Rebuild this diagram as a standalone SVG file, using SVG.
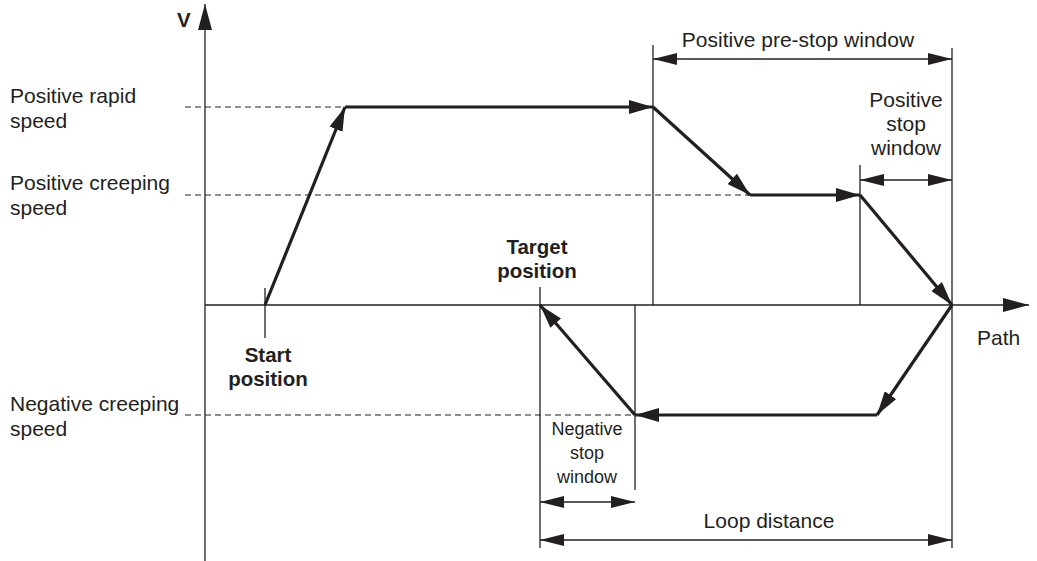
<svg xmlns="http://www.w3.org/2000/svg" width="1037" height="561" viewBox="0 0 1037 561">
<defs>
<style>
text{font-family:"Liberation Sans",Arial,sans-serif;font-size:21px;fill:#231f20}
.b{font-weight:bold;font-size:20.5px}
.c{text-anchor:middle}
.s{font-size:18px}
.thin{stroke:#231f20;stroke-width:1.3;fill:none}
.dash{stroke:#231f20;stroke-width:1;stroke-dasharray:6 4;fill:none}
.thick{stroke:#231f20;stroke-width:3.2;fill:none;marker-end:url(#ah)}
.dim{stroke:#231f20;stroke-width:1.3;fill:none;marker-start:url(#ds);marker-end:url(#de)}
</style>
<marker id="ah" viewBox="0 0 24 14" refX="24" refY="7" markerWidth="24" markerHeight="14" markerUnits="userSpaceOnUse" orient="auto"><path d="M0,0L24,7L0,14z" fill="#231f20"/></marker>
<marker id="de" viewBox="0 0 24 12" refX="24" refY="6" markerWidth="24" markerHeight="12" markerUnits="userSpaceOnUse" orient="auto"><path d="M0,0L24,6L0,12z" fill="#231f20"/></marker>
<marker id="ds" viewBox="0 0 24 12" refX="0" refY="6" markerWidth="24" markerHeight="12" markerUnits="userSpaceOnUse" orient="auto"><path d="M24,0L0,6L24,12z" fill="#231f20"/></marker>
<marker id="ax" viewBox="0 0 26 14" refX="26" refY="7" markerWidth="26" markerHeight="14" markerUnits="userSpaceOnUse" orient="auto"><path d="M0,0L26,7L0,14z" fill="#231f20"/></marker>
</defs>
<g id="axes">
<line class="thin" x1="205" y1="561" x2="205" y2="4" marker-end="url(#ax)"/>
<line class="thin" x1="205" y1="305" x2="1029" y2="305" marker-end="url(#ax)"/>
<text class="b" x="177" y="27">V</text>
<text x="977" y="345">Path</text>
</g>
<g id="guides">
<line class="dash" x1="185" y1="107" x2="345" y2="107"/>
<line class="dash" x1="185" y1="195" x2="750" y2="195"/>
<line class="dash" x1="185" y1="415" x2="635" y2="415"/>
<line class="thin" x1="265" y1="288" x2="265" y2="338"/>
<line class="thin" x1="540" y1="287" x2="540" y2="548"/>
<line class="thin" x1="635" y1="305" x2="635" y2="490"/>
<line class="thin" x1="653" y1="45" x2="653" y2="305"/>
<line class="thin" x1="860" y1="165" x2="860" y2="305"/>
<line class="thin" x1="952" y1="48" x2="952" y2="548"/>
</g>
<g id="labels">
<text x="10" y="103">Positive rapid</text>
<text x="10" y="128">speed</text>
<text x="10" y="190">Positive creeping</text>
<text x="10" y="215">speed</text>
<text x="10" y="411">Negative creeping</text>
<text x="10" y="436">speed</text>
<text class="b c" x="268" y="362">Start</text>
<text class="b c" x="268" y="386">position</text>
<text class="b c" x="537" y="254">Target</text>
<text class="b c" x="537" y="278">position</text>
<text class="c" x="798" y="47">Positive pre-stop window</text>
<text class="c" x="906" y="107">Positive</text>
<text class="c" x="906" y="131">stop</text>
<text class="c" x="906" y="155">window</text>
<text class="c s" x="587" y="435">Negative</text>
<text class="c s" x="587" y="459">stop</text>
<text class="c s" x="587" y="483">window</text>
<text class="c" x="769" y="528">Loop distance</text>
</g>
<g id="connectors">
<line class="dim" x1="653" y1="59" x2="952" y2="59"/>
<line class="dim" x1="860" y1="180" x2="952" y2="180"/>
<line class="dim" x1="540" y1="502" x2="635" y2="502"/>
<line class="dim" x1="540" y1="540" x2="952" y2="540"/>
<line class="thick" x1="265" y1="305" x2="345" y2="107"/>
<line class="thick" x1="345" y1="107" x2="653" y2="107"/>
<line class="thick" x1="653" y1="107" x2="750" y2="195"/>
<line class="thick" x1="750" y1="195" x2="860" y2="195"/>
<line class="thick" x1="860" y1="195" x2="952" y2="305"/>
<line class="thick" x1="952" y1="305" x2="877" y2="415"/>
<line class="thick" x1="877" y1="415" x2="635" y2="415"/>
<line class="thick" x1="635" y1="415" x2="540" y2="305"/>
</g>
</svg>
